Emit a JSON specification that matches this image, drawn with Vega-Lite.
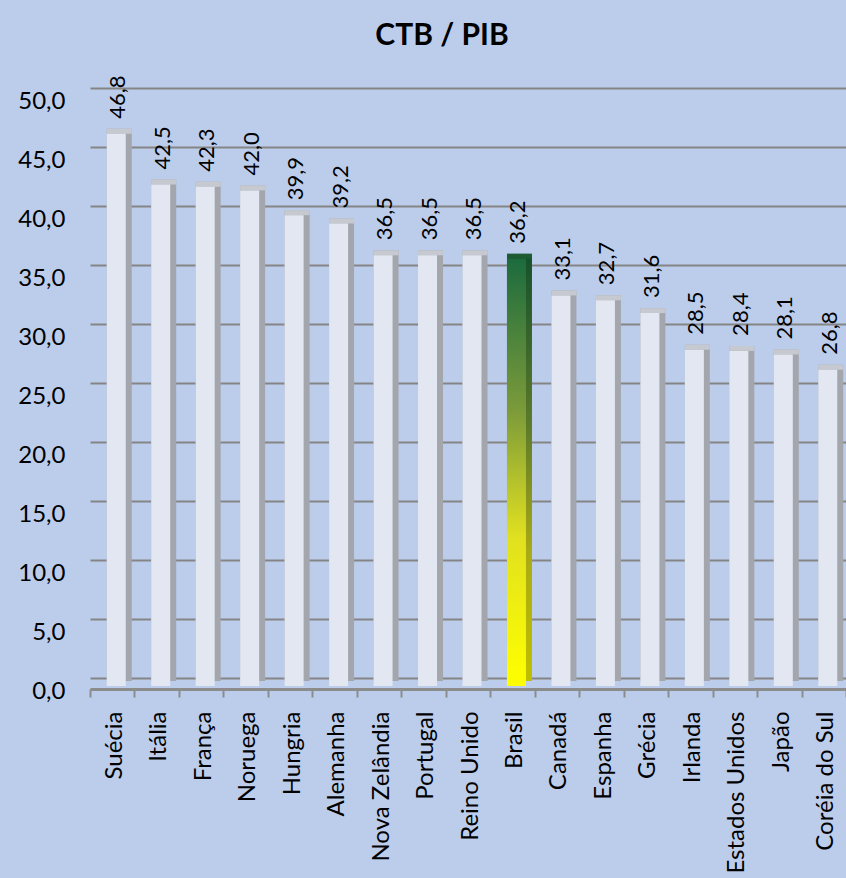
{
  "$schema": "https://vega.github.io/schema/vega-lite/v6.json",
  "width": 756,
  "height": 590,
  "autosize": {"type": "none"},
  "padding": {"left": 90, "top": 88, "right": 0, "bottom": 200},
  "background": "#BCCDEC",
  "title": {"text": "CTB / PIB", "fontSize": 30, "fontWeight": "bold", "font": "Lato", "color": "#000000", "anchor": "middle", "dx": -26, "baseline": "bottom", "offset": -6},
  "config": {
    "locale": {"number": {"decimal": ",", "thousands": ".", "grouping": [3], "currency": ["R$", ""]}},
    "view": {"stroke": null},
    "font": "Lato"
  },
  "data": {"values": [
    {"pais": "Suécia", "v": 46.8},
    {"pais": "Itália", "v": 42.5},
    {"pais": "França", "v": 42.3},
    {"pais": "Noruega", "v": 42.0},
    {"pais": "Hungria", "v": 39.9},
    {"pais": "Alemanha", "v": 39.2},
    {"pais": "Nova Zelândia", "v": 36.5},
    {"pais": "Portugal", "v": 36.5},
    {"pais": "Reino Unido", "v": 36.5},
    {"pais": "Brasil", "v": 36.2},
    {"pais": "Canadá", "v": 33.1},
    {"pais": "Espanha", "v": 32.7},
    {"pais": "Grécia", "v": 31.6},
    {"pais": "Irlanda", "v": 28.5},
    {"pais": "Estados Unidos", "v": 28.4},
    {"pais": "Japão", "v": 28.1},
    {"pais": "Coréia do Sul", "v": 26.8}
  ]},
  "encoding": {
    "x": {"field": "pais", "type": "nominal",
      "sort": ["Suécia", "Itália", "França", "Noruega", "Hungria", "Alemanha", "Nova Zelândia", "Portugal", "Reino Unido", "Brasil", "Canadá", "Espanha", "Grécia", "Irlanda", "Estados Unidos", "Japão", "Coréia do Sul"],
      "scale": {"paddingInner": 0, "paddingOuter": 0},
      "axis": {"orient": "bottom", "offset": 11, "labelAngle": -90, "labelAlign": "right", "labelBaseline": "middle",
        "labelFontSize": 24, "labelColor": "#000000", "labelOffset": 2, "tickBand": "extent", "tickSize": 8, "tickColor": "#8C8C8C",
        "tickWidth": 2, "domainColor": "#8C8C8C", "domainWidth": 3, "labelPadding": 14, "title": null}},
    "y": {"field": "v", "type": "quantitative",
      "scale": {"domain": [0, 50], "nice": false},
      "axis": {"values": [0, 5, 10, 15, 20, 25, 30, 35, 40, 45, 50], "format": ".1f", "grid": true, "gridColor": "#858585",
        "gridWidth": 2, "domain": false, "ticks": false, "labelFontSize": 24, "labelColor": "#000000", "labelOffset": 13,
        "labelPadding": 25, "title": null}}
  },
  "layer": [
    {"transform": [{"filter": "datum.pais !== 'Brasil'"}],
     "mark": {"type": "bar", "width": 25, "xOffset": 7, "yOffset": 3, "fill": "#A3A6AC"}},
    {"transform": [{"filter": "datum.pais !== 'Brasil'"}],
     "mark": {"type": "tick", "orient": "horizontal", "size": 25, "thickness": 5, "xOffset": 7, "yOffset": 5.5, "color": "#C6C9CF", "opacity": 1}},
    {"transform": [{"filter": "datum.pais !== 'Brasil'"}],
     "mark": {"type": "bar", "width": 19, "xOffset": 4, "yOffset": 8, "fill": "#E2E7F2"}},
    {"transform": [{"filter": "datum.pais === 'Brasil'"}],
     "mark": {"type": "bar", "width": 25, "xOffset": 7, "yOffset": 3,
       "fill": {"gradient": "linear", "x1": 0, "y1": 0, "x2": 0, "y2": 1,
         "stops": [{"offset": 0, "color": "#15502C"}, {"offset": 0.4, "color": "#5C7A2A"}, {"offset": 0.7, "color": "#A9AA14"}, {"offset": 1, "color": "#BFBF00"}]}}},
    {"transform": [{"filter": "datum.pais === 'Brasil'"}],
     "mark": {"type": "tick", "orient": "horizontal", "size": 25, "thickness": 5, "xOffset": 7, "yOffset": 5.5, "color": "#1E5A32", "opacity": 1}},
    {"transform": [{"filter": "datum.pais === 'Brasil'"}],
     "mark": {"type": "bar", "width": 19, "xOffset": 4, "yOffset": 8,
       "fill": {"gradient": "linear", "x1": 0, "y1": 0, "x2": 0, "y2": 1,
         "stops": [{"offset": 0, "color": "#1C6B3E"}, {"offset": 0.35, "color": "#7A9A3A"}, {"offset": 0.65, "color": "#E0E020"}, {"offset": 1, "color": "#FFFF00"}]}}},
    {"mark": {"type": "text", "angle": -90, "align": "left", "baseline": "middle", "xOffset": 6, "yOffset": -7, "fontSize": 22, "color": "#000000"},
     "encoding": {"text": {"field": "v", "type": "quantitative", "format": ".1f"}}}
  ]
}
